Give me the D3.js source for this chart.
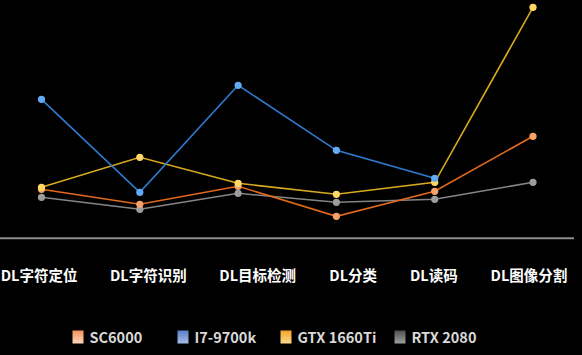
<!DOCTYPE html>
<html><head><meta charset="utf-8">
<script src="https://cdn.jsdelivr.net/npm/d3@7/dist/d3.min.js"></script>
<style>
html,body{margin:0;padding:0;background:#000;}
svg{display:block;}
text{font-family:"Noto Sans CJK SC","Noto Sans",sans-serif;font-weight:bold;}
</style></head>
<body>
<script>
const categories = ["DL字符定位","DL字符识别","DL目标检测","DL分类","DL读码","DL图像分割"];
const seriesNames = ["SC6000","I7-9700k","GTX 1660Ti","RTX 2080"];
const sc6000 = [49, 34, 52, 22, 47, 102];
const i7 = [139, 46, 153, 88, 60, null];
const gtx = [51, 81, 55, 44, 56, 231];
const rtx = [41, 29, 45, 36, 39, 56];

const W = 582, H = 355;
const svg = d3.select("body").append("svg").attr("width", W).attr("height", H);
svg.append("rect").attr("width", W).attr("height", H).attr("fill", "#000");

const x = d3.scalePoint().domain(categories).range([41.5, 533]).padding(0);
const y = d3.scaleLinear().domain([0, 231]).range([238.3, 7.3]);

const series = [
  {name: seriesNames[0], values: sc6000, line: "#e2691c", pt: "#f6a06a", sw: ["#f39058", "#fcd8bd"]},
  {name: seriesNames[1], values: i7, line: "#2f7bd0", pt: "#64a9f4", sw: ["#5a80c8", "#a7bce6"]},
  {name: seriesNames[2], values: gtx, line: "#d7aa1e", pt: "#ffd865", sw: ["#f4a425", "#fcd98e"]},
  {name: seriesNames[3], values: rtx, line: "#858585", pt: "#9c9c9c", sw: ["#4e4e4e", "#a0a0a0"]}
];

// axis line
svg.append("line").attr("x1", 0).attr("x2", 574).attr("y1", 238.3).attr("y2", 238.3)
  .attr("stroke", "#8c8c8c").attr("stroke-width", 2);

// x labels
const labelLeft = [0.7, 110, 219.3, 329.3, 410, 490.6];
svg.selectAll("text.xl").data(categories).enter().append("text")
  .attr("class", "xl")
  .attr("x", (d, i) => labelLeft[i])
  .attr("y", 276)
  .attr("dy", "0.35em")
  .attr("fill", "#ffffff")
  .attr("font-size", "14.5px")
  .text(d => d);

// draw order: rtx, sc6000, gtx, i7 (blue on top)
const order = [3, 0, 2, 1];
const line = d3.line().defined(d => d.v != null).x(d => x(d.c)).y(d => y(d.v));
order.forEach(si => {
  const s = series[si];
  const pts = categories.map((c, i) => ({c, v: s.values[i]}));
  svg.append("path").datum(pts).attr("d", line)
    .attr("fill", "none").attr("stroke", s.line).attr("stroke-width", 1.6);
});
order.forEach(si => {
  const s = series[si];
  const pts = categories.map((c, i) => ({c, v: s.values[i]})).filter(d => d.v != null);
  svg.selectAll(null).data(pts).enter().append("circle")
    .attr("cx", d => x(d.c)).attr("cy", d => y(d.v)).attr("r", 3.6)
    .attr("fill", s.pt);
});

// legend
const defs = svg.append("defs");
series.forEach((s, i) => {
  const g = defs.append("linearGradient").attr("id", "g" + i)
    .attr("x1", 0).attr("y1", 0).attr("x2", 0).attr("y2", 1);
  g.append("stop").attr("offset", 0).attr("stop-color", s.sw[0]);
  g.append("stop").attr("offset", 1).attr("stop-color", s.sw[1]);
});
const legX = [72.5, 177.5, 280.5, 394.5];
const leg = svg.selectAll("g.leg").data(series).enter().append("g")
  .attr("class", "leg").attr("transform", (d, i) => `translate(${legX[i]},330.5)`);
leg.append("rect").attr("width", 11).attr("height", 13).attr("fill", (d, i) => `url(#g${i})`);
leg.append("text").attr("x", 17).attr("y", 7).attr("dy", "0.35em")
  .attr("fill", "#d9d9d9").attr("font-size", "14.5px").text(d => d.name);
</script>
</body></html>
